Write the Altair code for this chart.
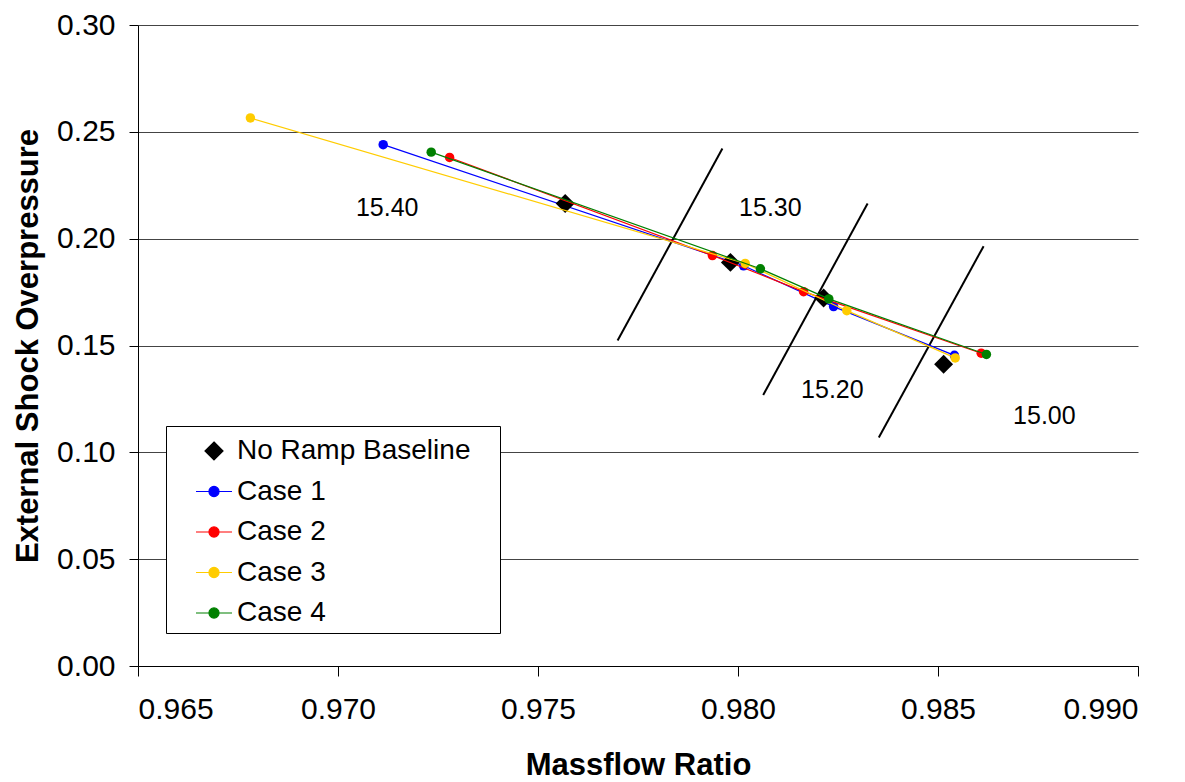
import altair as alt
import pandas as pd

# ---------------- data ----------------
series_names = ["No Ramp Baseline", "Case 1", "Case 2", "Case 3", "Case 4"]
series_colors = ["#000000", "#0000FF", "#FF0000", "#FFCC00", "#008000"]

baseline_x = [0.97568, 0.97981, 0.98214, 0.98514]
baseline_y = [0.2165, 0.1889, 0.1722, 0.1412]

case1_x = [0.97113, 0.98014, 0.98239, 0.98541]
case1_y = [0.2440, 0.1873, 0.1682, 0.1454]
case2_x = [0.97279, 0.97936, 0.98164, 0.98608]
case2_y = [0.2380, 0.1921, 0.1752, 0.1464]
case3_x = [0.96781, 0.98018, 0.98272, 0.98543]
case3_y = [0.2565, 0.1884, 0.1663, 0.1442]
case4_x = [0.97233, 0.98056, 0.98227, 0.98621]
case4_y = [0.2405, 0.1859, 0.1718, 0.1458]

iso_ids = ["15.35", "15.35", "15.25", "15.25", "15.10", "15.10"]
iso_x = [0.97699, 0.97961, 0.98063, 0.98324, 0.98352, 0.98614]
iso_y = [0.1523, 0.2422, 0.1268, 0.2165, 0.1069, 0.1965]

label_text = ["15.40", "15.30", "15.20", "15.00"]
label_x = [0.97123, 0.98081, 0.98236, 0.98766]
label_y = [0.2145, 0.2145, 0.1292, 0.1171]

x_ticks = [0.965, 0.970, 0.975, 0.980, 0.985, 0.990]
y_ticks = [0.00, 0.05, 0.10, 0.15, 0.20, 0.25, 0.30]

# ---------------- tables ----------------
case_lists = [("Case 1", case1_x, case1_y), ("Case 2", case2_x, case2_y),
              ("Case 3", case3_x, case3_y), ("Case 4", case4_x, case4_y)]
rows = []
for name, xs, ys in case_lists:
    for i, (xv, yv) in enumerate(zip(xs, ys)):
        rows.append({"series": name, "idx": i, "x": xv, "y": yv})
cases_df = pd.DataFrame(rows)
base_df = pd.DataFrame({"series": "No Ramp Baseline", "x": baseline_x, "y": baseline_y})
all_df = pd.concat([base_df, cases_df], ignore_index=True)
iso_df = pd.DataFrame({"iso": iso_ids, "x": iso_x, "y": iso_y})
lab_df = pd.DataFrame({"t": label_text, "x": label_x, "y": label_y})

FONT = "Liberation Sans"

xenc = alt.X("x:Q", scale=alt.Scale(domain=[0.965, 0.990], nice=False, zero=False),
             axis=alt.Axis(title="Massflow Ratio", values=x_ticks, format=".3f", grid=False,
                           tickSize=10, labelPadding=18, titleY=108, titleBaseline="alphabetic"))
yenc = alt.Y("y:Q", scale=alt.Scale(domain=[0.0, 0.30], nice=False, zero=False),
             axis=alt.Axis(title="External Shock Overpressure", values=y_ticks, format=".2f",
                           grid=True, gridColor="#444444", gridWidth=1, tickSize=9,
                           labelPadding=14, titleX=-110, titleY=320.5,
                           titleBaseline="middle", titleAlign="center", titleAngle=270))

color_scale = alt.Scale(domain=series_names, range=series_colors)

diamond_path = "M0,-0.5L0.5,0L0,0.5L-0.5,0Z"
case_path = "M-1,0L1,0M-0.28,0A0.28,0.28 0 1,1 0.28,0A0.28,0.28 0 1,1 -0.28,0Z"
shape_scale = alt.Scale(domain=series_names,
                        range=[diamond_path, case_path, case_path, case_path, case_path])

leg = alt.Legend(title=None, orient="none", legendX=28, legendY=401,
                 fillColor="white", strokeColor="black", padding=6, cornerRadius=0,
                 symbolSize=1296, symbolStrokeWidth=1.2, symbolOffset=23, labelOffset=4,
                 labelFont=FONT, labelFontSize=28, labelColor="black", rowPadding=7.5,
                 labelLimit=400,
                 labelExpr="datum.label + '\u00a0\u00a0\u00a0\u2060'")

legend_layer = alt.Chart(all_df).transform_filter("false").mark_point(filled=True, opacity=1).encode(
    x=xenc, y=yenc,
    fill=alt.Fill("series:N", scale=color_scale, legend=leg),
    stroke=alt.Stroke("series:N", scale=color_scale, legend=leg),
    shape=alt.Shape("series:N", scale=shape_scale, legend=leg),
)

iso_layer = alt.Chart(iso_df).mark_line(color="black", strokeWidth=2).encode(
    x=xenc, y=yenc, detail="iso:N")

diamond_layer = alt.Chart(base_df).mark_point(shape="diamond", filled=True, size=360,
                                              color="black", opacity=1).encode(x=xenc, y=yenc)

case_layers = []
for (name, _, _), col in zip(case_lists, series_colors[1:]):
    sub = alt.Chart(cases_df).transform_filter(alt.datum.series == name)
    case_layers.append(sub.mark_line(strokeWidth=1.2, color=col).encode(
        x=xenc, y=yenc, order="idx:Q"))
    case_layers.append(sub.mark_circle(size=90, opacity=1, color=col).encode(x=xenc, y=yenc))

text_layer = alt.Chart(lab_df).mark_text(font=FONT, fontSize=25, color="black",
                                         align="center", baseline="middle").encode(
    x=xenc, y=yenc, text="t:N")

chart = alt.layer(iso_layer, *case_layers[:1], diamond_layer, *case_layers[1:],
                  text_layer, legend_layer).properties(
    width=1000, height=641,
    autosize=alt.AutoSizeParams(type="none"),
    padding={"left": 130, "top": 17, "right": 39, "bottom": 116},
).configure_view(stroke=None).configure_axis(
    labelFont=FONT, labelFontSize=30, labelColor="black",
    titleFont=FONT, titleFontSize=31, titleFontWeight="bold", titleColor="black",
    domainColor="black", tickColor="black", domainWidth=1, tickWidth=1,
)

chart.save("out.html", embed_options={"renderer": "svg", "actions": False})
